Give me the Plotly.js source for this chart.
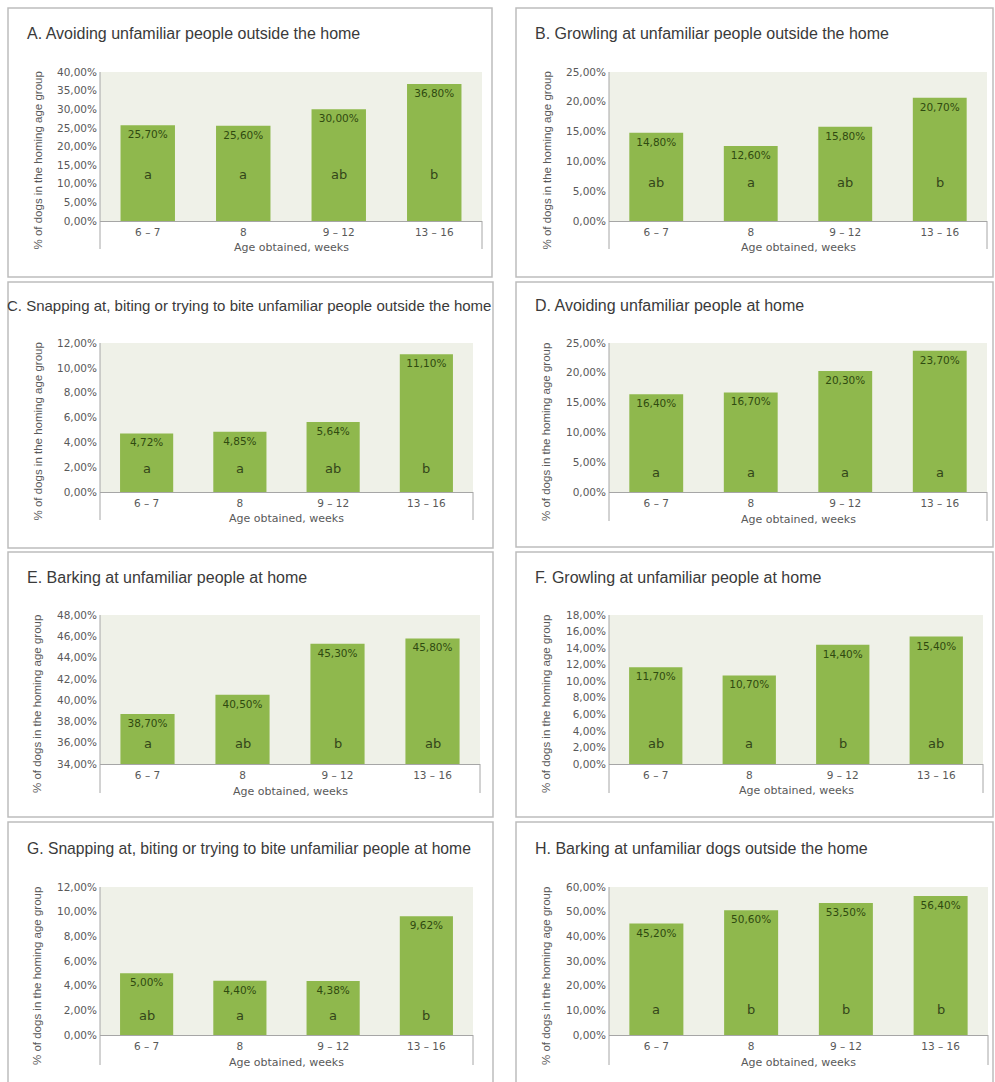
<!DOCTYPE html>
<html>
<head>
<meta charset="utf-8">
<script src="https://cdn.plot.ly/plotly-3.0.1.min.js"></script>
<style>
  html, body { margin: 0; padding: 0; background: #ffffff; }
  #chart { width: 995px; height: 1082px; }
</style>
</head>
<body>
<div id="chart"></div>
<script>
// ---------- DATA ----------
const categories = ["6 – 7", "8", "9 – 12", "13 – 16"];

const titleA = "A. Avoiding unfamiliar people outside the home";
const titleB = "B. Growling at unfamiliar people outside the home";
const titleC = "C. Snapping at, biting or trying to bite unfamiliar people outside the home";
const titleD = "D. Avoiding unfamiliar people at home";
const titleE = "E. Barking at unfamiliar people at home";
const titleF = "F. Growling at unfamiliar people at home";
const titleG = "G. Snapping at, biting or trying to bite unfamiliar people at home";
const titleH = "H. Barking at unfamiliar dogs outside the home";

const valuesA = [25.70, 25.60, 30.00, 36.80];
const valuesB = [14.80, 12.60, 15.80, 20.70];
const valuesC = [4.72, 4.85, 5.64, 11.10];
const valuesD = [16.40, 16.70, 20.30, 23.70];
const valuesE = [38.70, 40.50, 45.30, 45.80];
const valuesF = [11.70, 10.70, 14.40, 15.40];
const valuesG = [5.00, 4.40, 4.38, 9.62];
const valuesH = [45.20, 50.60, 53.50, 56.40];

const lettersA = ["a", "a", "ab", "b"];
const lettersB = ["ab", "a", "ab", "b"];
const lettersC = ["a", "a", "ab", "b"];
const lettersD = ["a", "a", "a", "a"];
const lettersE = ["a", "ab", "b", "ab"];
const lettersF = ["ab", "a", "b", "ab"];
const lettersG = ["ab", "a", "a", "b"];
const lettersH = ["a", "b", "b", "b"];

const yTitle = "% of dogs in the homing age group";
const xTitle = "Age obtained, weeks";

// ---------- LAYOUT CONFIG (pixels) ----------
const W = 995, H = 1082;
const panels = [
  {title: titleA, values: valuesA, letters: lettersA, yr: [0, 40], dt: 5, fs: 16,
   box: [8, 8, 492, 277], plot: [100, 72, 482, 221], tx: 25, ty: 33, xl: 247, vb: 249, lf: 0.31},
  {title: titleB, values: valuesB, letters: lettersB, yr: [0, 25], dt: 5, fs: 16,
   box: [516, 8, 993, 277], plot: [609, 72, 987, 221], tx: 533, ty: 33, xl: 247, vb: 249, lf: 0.26},
  {title: titleC, values: valuesC, letters: lettersC, yr: [0, 12], dt: 2, fs: 15,
   box: [8, 282, 493, 548], plot: [100, 343, 473, 492], tx: 5, ty: 305, xl: 518, vb: 520, lf: 0.16},
  {title: titleD, values: valuesD, letters: lettersD, yr: [0, 25], dt: 5, fs: 16,
   box: [516, 282, 993, 547], plot: [609, 343, 987, 492], tx: 533, ty: 305, xl: 519, vb: 521, lf: 0.13},
  {title: titleE, values: valuesE, letters: lettersE, yr: [34, 48], dt: 2, fs: 16,
   box: [8, 552, 493, 817], plot: [100, 615, 480, 764], tx: 25, ty: 577, xl: 791, vb: 793, lf: 0.14},
  {title: titleF, values: valuesF, letters: lettersF, yr: [0, 18], dt: 2, fs: 16,
   box: [516, 552, 993, 817], plot: [609, 615, 983, 764], tx: 533, ty: 577, xl: 790, vb: 793, lf: 0.14},
  {title: titleG, values: valuesG, letters: lettersG, yr: [0, 12], dt: 2, fs: 15.7,
   box: [8, 822, 493, 1090], plot: [100, 887, 473, 1035], tx: 25, ty: 848, xl: 1062, vb: 1065, lf: 0.135},
  {title: titleH, values: valuesH, letters: lettersH, yr: [0, 60], dt: 10, fs: 16,
   box: [516, 822, 993, 1090], plot: [609, 887, 988, 1035], tx: 533, ty: 848, xl: 1062, vb: 1065, lf: 0.17}
];

const BAR = "#8fb84d";
const AXIS = "#a6a6a6";
const TICKFONT = {family: "DejaVu Sans", size: 10.5, color: "#595959"};
const px = v => v / W;
const py = v => 1 - v / H;

const traces = [];
const layout = {
  width: W, height: H,
  margin: {l: 0, r: 0, t: 0, b: 0},
  paper_bgcolor: "#ffffff",
  plot_bgcolor: "#eff1e8",
  separators: ",.",
  showlegend: false,
  shapes: [],
  annotations: []
};

panels.forEach((p, i) => {
  const n = i + 1;
  const xa = "x" + (n === 1 ? "" : n), ya = "y" + (n === 1 ? "" : n);
  const xk = "xaxis" + (n === 1 ? "" : n), yk = "yaxis" + (n === 1 ? "" : n);
  const [L, T, R, B] = p.plot;

  traces.push({
    type: "bar", x: categories, y: p.values, xaxis: xa, yaxis: ya,
    marker: {color: BAR, line: {width: 0}},
    width: 0.57,
    texttemplate: "%{y:.2f}%",
    textposition: "inside", insidetextanchor: "end", textangle: 0,
    constraintext: "none",
    insidetextfont: {family: "DejaVu Sans", size: 10.5, color: "#2f4a10"},
    hoverinfo: "skip"
  });

  layout[xk] = {
    domain: [px(L), px(R)], anchor: ya, type: "category",
    range: [-0.5, 3.5], showline: true, linecolor: AXIS, linewidth: 1,
    ticks: "", showgrid: false, zeroline: false, fixedrange: true,
    tickfont: TICKFONT, ticklabelstandoff: 1
  };
  layout[yk] = {
    domain: [py(B), py(T)], anchor: xa, range: p.yr, tick0: p.yr[0], dtick: p.dt,
    tickformat: ".2f", ticksuffix: "%", showgrid: false, showline: false,
    zeroline: false, ticks: "", fixedrange: true, tickfont: TICKFONT,
    ticklabelstandoff: 2
  };

  // panel border
  layout.shapes.push({type: "rect", xref: "paper", yref: "paper",
    x0: px(p.box[0]), x1: px(p.box[2]), y0: py(p.box[3]), y1: py(p.box[1]),
    line: {color: "#bdbdbd", width: 1.5}, fillcolor: "rgba(0,0,0,0)", layer: "below"});
  // y axis line extending below the category labels
  layout.shapes.push({type: "line", xref: "paper", yref: "paper",
    x0: px(L), x1: px(L), y0: py(p.vb), y1: py(T), line: {color: AXIS, width: 1}});
  // right end tick of the category axis
  layout.shapes.push({type: "line", xref: "paper", yref: "paper",
    x0: px(R), x1: px(R), y0: py(p.vb), y1: py(B), line: {color: AXIS, width: 1}});

  // panel title
  layout.annotations.push({xref: "paper", yref: "paper", x: px(p.tx), y: py(p.ty),
    xanchor: "left", yanchor: "middle", showarrow: false, text: p.title,
    font: {family: "Liberation Sans", size: p.fs, color: "#3a3a3a"}});
  // y title
  layout.annotations.push({xref: "paper", yref: "paper", x: px(L - 63), y: py((T + p.vb) / 2),
    xanchor: "center", yanchor: "middle", textangle: -90, showarrow: false, text: yTitle,
    font: {family: "Liberation Sans", size: 11.5, color: "#595959"}});
  // x title
  layout.annotations.push({xref: "paper", yref: "paper", x: px((L + R) / 2), y: py(p.xl),
    xanchor: "center", yanchor: "middle", showarrow: false, text: xTitle,
    font: {family: "DejaVu Sans", size: 11, color: "#595959"}});
  // significance letters (x given as category index)
  p.letters.forEach((t, k) => {
    layout.annotations.push({xref: xa, yref: ya + " domain", x: k, y: p.lf,
      xanchor: "center", yanchor: "middle", showarrow: false, text: t,
      font: {family: "DejaVu Sans", size: 13, color: "#34461a"}});
  });
});

Plotly.newPlot("chart", traces, layout, {staticPlot: true, displayModeBar: false});
</script>
</body>
</html>
